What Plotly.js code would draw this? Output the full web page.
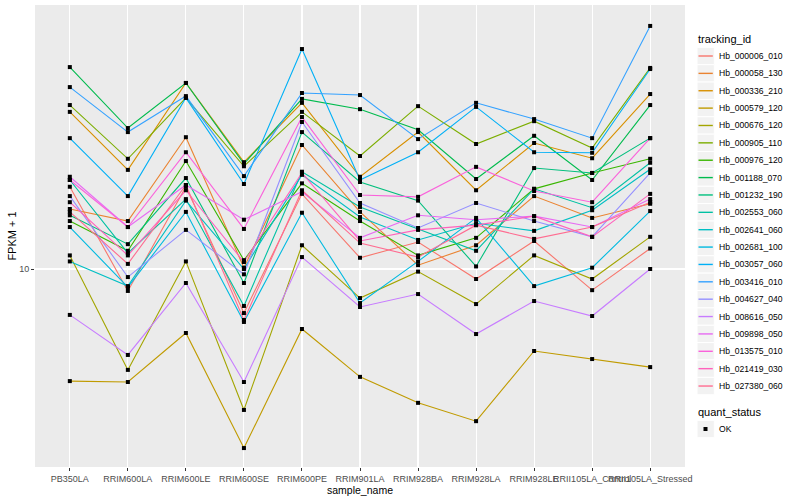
<!DOCTYPE html>
<html><head><meta charset="utf-8">
<script src="https://cdn.plot.ly/plotly-3.0.1.min.js"></script>
<style>html,body{margin:0;padding:0;background:#fff}#chart{width:800px;height:500px}</style>
</head><body><div id="chart"></div>
<script>
// ---- data ----
const samples = ["PB350LA","RRIM600LA","RRIM600LE","RRIM600SE","RRIM600PE","RRIM901LA","RRIM928BA","RRIM928LA","RRIM928LE","RRII105LA_Control","RRII105LA_Stressed"];
const trackingIds = ["Hb_000006_010","Hb_000058_130","Hb_000336_210","Hb_000579_120","Hb_000676_120","Hb_000905_110","Hb_000976_120","Hb_001188_070","Hb_001232_190","Hb_002553_060","Hb_002641_060","Hb_002681_100","Hb_003057_060","Hb_003416_010","Hb_004627_040","Hb_008616_050","Hb_009898_050","Hb_013575_010","Hb_021419_030","Hb_027380_060"];
const colors = ["#F8766D","#EA8331","#D89000","#C09B00","#A3A500","#7CAE00","#39B600","#00BB4E","#00BF7D","#00C1A3","#00BFC4","#00BAE0","#00B0F6","#35A2FF","#9590FF","#C77CFF","#E76BF3","#FA62DB","#FF62BC","#FF6C91"];
const quantStatus = ["OK"];

const hb000006_010 = [18.8, 8.45, 18.8, 7.13, 17.8, 10.9, 12.3, 9.26, 12.4, 8.5, 11.7];
const hb000058_130 = [15.85, 14.45, 27.5, 10.1, 25.9, 15.5, 10.3, 12.0, 17.5, 14.8, 16.5];
const hb000336_210 = [33.4, 21.4, 41.7, 22.7, 35.8, 20.3, 28.6, 18.3, 26.3, 23.4, 38.3];
const hb000579_120 = [4.23, 4.20, 6.12, 2.53, 6.31, 4.37, 3.58, 3.11, 5.33, 5.01, 4.71];
const hb000676_120 = [11.1, 4.61, 10.6, 3.39, 12.0, 8.0, 9.8, 7.64, 11.1, 9.26, 12.8];
const hb000905_110 = [35.2, 23.3, 37.2, 22.0, 33.4, 23.8, 34.9, 26.1, 31.1, 25.3, 46.8];
const hb000976_120 = [14.45, 11.5, 22.9, 10.7, 19.3, 14.45, 11.1, 12.7, 18.5, 20.9, 23.3];
const hb001188_070 = [47.1, 29.5, 41.7, 22.4, 36.9, 34.1, 29.1, 19.95, 27.8, 19.8, 35.2];
const hb001232_190 = [15.1, 12.1, 20.1, 8.98, 28.6, 19.5, 16.9, 10.2, 21.7, 20.9, 27.3];
const hb002553_060 = [19.8, 11.3, 17.1, 7.53, 21.1, 16.1, 13.6, 11.5, 18.5, 16.0, 22.6];
const hb002641_060 = [10.6, 8.77, 16.9, 10.0, 20.6, 14.9, 12.5, 14.2, 13.4, 15.7, 21.5];
const hb002681_100 = [13.8, 8.7, 15.5, 6.66, 15.4, 7.7, 10.6, 14.8, 8.77, 10.1, 15.6];
const hb003057_060 = [27.3, 17.5, 37.2, 19.2, 54.1, 19.8, 24.5, 34.7, 24.5, 24.4, 46.4];
const hb003416_010 = [40.4, 28.6, 37.7, 20.4, 38.6, 38.0, 27.1, 35.8, 31.6, 27.3, 64.6];
const hb004627_040 = [17.5, 9.4, 13.5, 9.6, 30.9, 16.6, 13.7, 16.6, 14.45, 12.8, 20.9];
const hb008616_050 = [7.03, 5.17, 8.98, 4.20, 10.96, 7.47, 8.25, 6.07, 7.82, 6.97, 10.0];
const hb009898_050 = [20.3, 13.8, 19.05, 14.6, 18.1, 12.7, 15.1, 14.6, 15.0, 13.8, 17.1];
const hb013575_010 = [19.8, 13.8, 24.5, 13.6, 32.1, 17.65, 17.4, 21.9, 18.2, 16.7, 27.3];
const hb021419_030 = [16.7, 11.1, 18.3, 10.55, 20.9, 12.4, 13.5, 14.0, 15.0, 12.8, 17.8];
const hb027380_060 = [15.5, 10.4, 19.05, 6.76, 18.3, 12.2, 10.96, 14.0, 12.6, 13.8, 16.7];

const seriesValues = [hb000006_010,hb000058_130,hb000336_210,hb000579_120,hb000676_120,hb000905_110,hb000976_120,hb001188_070,hb001232_190,hb002553_060,hb002641_060,hb002681_100,hb003057_060,hb003416_010,hb004627_040,hb008616_050,hb009898_050,hb013575_010,hb021419_030,hb027380_060];

const yTickVals = [10];
const yTickText = ["10"];

// ---- layout helpers (pixel -> paper) ----
const PL = 35, PR = 685, PT = 5, PB = 467;
const px = v => (v - PL) / (PR - PL);
const py = v => (PB - v) / (PB - PT);
const FONT = "Liberation Sans, Arial, Helvetica, sans-serif";

const traces = [];
seriesValues.forEach((vals, i) => {
  traces.push({x: samples, y: vals, type: "scatter", mode: "lines",
    line: {color: colors[i], width: 1.1}, name: trackingIds[i], hoverinfo: "skip", showlegend: false});
});
seriesValues.forEach((vals, i) => {
  traces.push({x: samples, y: vals, type: "scatter", mode: "markers",
    marker: {symbol: "square", size: 4, color: "#000000", line: {width: 0}},
    name: quantStatus[0], hoverinfo: "skip", showlegend: false});
});

// ---- custom ggplot-style legend ----
const shapes = [];
const annotations = [];
annotations.push({xref: "paper", yref: "paper", x: px(696), y: py(39), xanchor: "left", yanchor: "middle",
  text: "tracking_id", showarrow: false, font: {family: FONT, size: 11, color: "#000"}});
const step = 17.37, y0 = 56;
trackingIds.forEach((id, i) => {
  const cy = y0 + i * step;
  shapes.push({type: "rect", xref: "paper", yref: "paper", x0: px(697), x1: px(714.3), y0: py(cy - step/2), y1: py(cy + step/2),
    fillcolor: "#F2F2F2", line: {color: "#FFFFFF", width: 1}, layer: "above"});
  shapes.push({type: "line", xref: "paper", yref: "paper", x0: px(698.5), x1: px(712.8), y0: py(cy), y1: py(cy),
    line: {color: colors[i], width: 1.4}, layer: "above"});
  annotations.push({xref: "paper", yref: "paper", x: px(717), y: py(cy), xanchor: "left", yanchor: "middle",
    text: id, showarrow: false, font: {family: FONT, size: 8.6, color: "#000"}});
});
annotations.push({xref: "paper", yref: "paper", x: px(696), y: py(412), xanchor: "left", yanchor: "middle",
  text: "quant_status", showarrow: false, font: {family: FONT, size: 11, color: "#000"}});
shapes.push({type: "rect", xref: "paper", yref: "paper", x0: px(697), x1: px(714.3), y0: py(429 - step/2), y1: py(429 + step/2),
  fillcolor: "#F2F2F2", line: {color: "#FFFFFF", width: 1}, layer: "above"});
shapes.push({type: "rect", xref: "paper", yref: "paper", x0: px(703.5), x1: px(707.5), y0: py(431), y1: py(427),
  fillcolor: "#000000", line: {width: 0}, layer: "above"});
annotations.push({xref: "paper", yref: "paper", x: px(717), y: py(429), xanchor: "left", yanchor: "middle",
  text: quantStatus[0], showarrow: false, font: {family: FONT, size: 8.6, color: "#000"}});

const layout = {
  width: 800, height: 500,
  margin: {l: PL, r: 800 - PR, t: PT, b: 500 - PB, pad: 0},
  paper_bgcolor: "#FFFFFF", plot_bgcolor: "#EBEBEB",
  font: {family: FONT, color: "#000"},
  showlegend: false,
  xaxis: {type: "category", categoryorder: "array", categoryarray: samples, range: [-0.6, 10.6],
    showgrid: true, gridcolor: "#FFFFFF", gridwidth: 1.1, zeroline: false, showline: false,
    ticks: "outside", ticklen: 3, tickwidth: 1, tickcolor: "#333333",
    tickfont: {family: FONT, size: 9, color: "#4D4D4D"}, tickangle: 0, automargin: false,
    title: {text: "sample_name", font: {family: FONT, size: 10.5, color: "#000"}, standoff: 1}},
  yaxis: {type: "log", range: [0.34, 1.88], tickvals: yTickVals, ticktext: yTickText,
    showgrid: true, gridcolor: "#FFFFFF", gridwidth: 1.1, zeroline: false, showline: false,
    ticks: "outside", ticklen: 3, tickwidth: 1, tickcolor: "#333333",
    tickfont: {family: FONT, size: 9, color: "#4D4D4D"}, automargin: false,
    title: {text: "FPKM + 1", font: {family: FONT, size: 11, color: "#000"}, standoff: 0}},
  shapes: shapes, annotations: annotations
};

Plotly.newPlot("chart", traces, layout, {displayModeBar: false, staticPlot: true});
</script></body></html>
